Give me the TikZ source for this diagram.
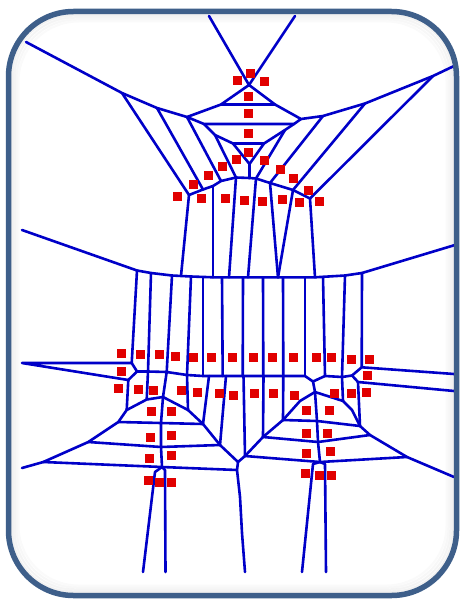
\documentclass[tikz,border=0pt]{standalone}
\definecolor{vorblue}{RGB}{0,0,200}
\definecolor{sitered}{RGB}{225,0,0}
\definecolor{framecol}{RGB}{62,95,138}
\begin{document}
\begin{tikzpicture}[x=1pt,y=-1pt,
  vor/.style={draw=vorblue,line width=2.6pt,line join=round,line cap=round},
  site/.style={fill=sitered},
  frame/.style={draw=framecol,line width=5.5pt,rounded corners=65pt}]
\useasboundingbox (0,0) rectangle (462,599);
\fill[white] (0,0) rectangle (462,599);
% inner soft shadow
\foreach \i/\o in {1/0.12,2/0.09,3/0.07,4/0.05,5/0.03}{
  \draw[black!60,opacity=\o,line width=2pt,rounded corners=60pt]
    (8.5+2*\i,11.5+2*\i) rectangle (456.5-2*\i,595.5-2*\i);
}
% ---------- vertices (upper cluster)
\coordinate (A) at (249,85);
\coordinate (B) at (221,104.5);
\coordinate (C) at (275,104.5);
\coordinate (D) at (187,117);
\coordinate (E) at (301,119);
\coordinate (F) at (204,124);
\coordinate (G) at (294,124);
\coordinate (H) at (215,135);
\coordinate (I) at (285,130);
\coordinate (TL) at (233,143.5);
\coordinate (TR) at (264,143.5);
\coordinate (TA) at (249.5,164);
\coordinate (Vc) at (249.5,178);
\coordinate (P1) at (26,42);
\coordinate (P2) at (122,93);
\coordinate (P3) at (157,108);
\coordinate (R1) at (454,66);
\coordinate (R2) at (433,76);
\coordinate (R3) at (365,103.5);
\coordinate (R4) at (323,116);
\coordinate (V1) at (189,195);
\coordinate (V2) at (203,189.5);
\coordinate (V2b) at (213,186);
\coordinate (V3) at (221,181);
\coordinate (V4) at (236,177.5);
\coordinate (W1) at (256,178.5);
\coordinate (W2) at (270,183);
\coordinate (W3) at (293,190);
\coordinate (W4) at (310,198.5);
% ---------- upper cells
\draw[vor] (209,16) -- (A) -- (295,16);
\draw[vor] (P1) -- (P2) -- (P3) -- (D) -- (B) -- (A) -- (C) -- (E) -- (R4) -- (R3) -- (R2) -- (R1);
\draw[vor] (B) -- (C);
\draw[vor] (D) -- (F) -- (G) -- (E);
\draw[vor] (F) -- (H) -- (TL) -- (TR) -- (I) -- (G);
\draw[vor] (TL) -- (TA) -- (TR);
\draw[vor] (TA) -- (Vc);
\draw[vor] (P2) -- (V1);
\draw[vor] (P3) -- (V2);
\draw[vor] (D) -- (V3);
\draw[vor] (H) -- (V4);
\draw[vor] (I) -- (W1);
\draw[vor] (R4) -- (W2);
\draw[vor] (R3) -- (W3);
\draw[vor] (R2) -- (W4);
\draw[vor] (V1) -- (V2) -- (V2b) -- (V3) -- (V4) -- (Vc) -- (W1) -- (W2) -- (W3) -- (W4);
% ---------- band
\draw[vor] (22,230) -- (137,270.5) -- (151,273) -- (172,275.5) -- (191,276.5) -- (213,277.3)
  -- (315,277.3) -- (345,275.5) -- (362,273) -- (455,245);
\draw[vor] (V1) -- (181,275.8);
\draw[vor] (V2b) -- (213,277.3);
\draw[vor] (V4) -- (229,277.3);
\draw[vor] (W1) -- (248,277.4);
\draw[vor] (W2) -- (278,277.4);
\draw[vor] (W3) -- (278,277.4);
\draw[vor] (W4) -- (315,277.3);
% ---------- row 1 verticals
\foreach \a/\b/\c/\d in {137/270.5/131.7/363, 151/273/148/371.5, 172/275.5/166.7/372,
  191/276.5/187/375, 203/277.3/203/376, 222/277.3/222.7/376, 243/277.4/242.7/376,
  263/277.4/263.3/376, 283/277.4/283.3/376, 305/277.3/305/376, 323/276.8/325/376,
  345/275.5/342/377, 362/273/361.7/367.3}{
  \draw[vor] (\a,\b) -- (\c,\d);
}
% ---------- side lines and row boundary
\draw[vor] (131.7,363) -- (22,363) -- (128.3,380);
\draw[vor] (131.7,363) -- (137,371.5) -- (128.3,380);
\draw[vor] (137,371.5) -- (148,371.5) -- (166.7,372) -- (187,375) -- (203,376) -- (222.7,376)
  -- (242.7,376) -- (263.3,376) -- (283.3,376) -- (305,376) -- (313,381.5) -- (325,376)
  -- (342,377) -- (352,375.5) -- (361.7,367.3) -- (454,374);
\draw[vor] (352,375.5) -- (358,382) -- (454,391);
% ---------- row 2 verticals
\foreach \a/\b/\c/\d in {128.3/380/126.7/410, 148/371.5/146.7/399.5, 166.7/372/163/397,
  187/375/188/410, 209/376/203/424, 226/376/220/445, 243.5/376/245/456,
  263.5/376/263/437, 283.3/376/283/420, 313/381.5/315/392, 342/377/343/401,
  358/382/360/426}{
  \draw[vor] (\a,\b) -- (\c,\d);
}
% ---------- left tree
\coordinate (LT) at (163,397);
\coordinate (LB) at (162,467);
\coordinate (TT) at (238,462);
\draw[vor] (22,468) -- (43.3,462) -- (88.3,442) -- (118.3,422) -- (126.7,410) -- (146.7,399.5)
  -- (LT) -- (188,410) -- (203,424) -- (220,445) -- (TT);
\draw[vor] (LT) -- (161,423) -- (161,447) -- (LB);
\draw[vor] (118.3,422) -- (161,423) -- (203,424);
\draw[vor] (88.3,442) -- (161,447) -- (220,445);
\draw[vor] (43.3,462) -- (LB) -- (237,470);
\draw[vor] (LB) -- (155,472) -- (143,572);
\draw[vor] (LB) -- (165,470) -- (165.5,572);
\draw[vor] (TT) -- (237,470) -- (240,497) -- (242,533) -- (245,572);
% ---------- right tree
\coordinate (RT) at (315,392);
\coordinate (RB) at (320,462);
\draw[vor] (TT) -- (245,456) -- (263,437) -- (283,420) -- (300,401) -- (RT) -- (343,401)
  -- (352,410) -- (360,426) -- (370,435) -- (407,457) -- (454,477);
\draw[vor] (RT) -- (317,421) -- (318,442) -- (RB);
\draw[vor] (283,420) -- (317,421) -- (360,426);
\draw[vor] (263,437) -- (318,442) -- (370,435);
\draw[vor] (245,456) -- (RB) -- (407,457);
\draw[vor] (RB) -- (313,464) -- (302,572);
\draw[vor] (RB) -- (325,464) -- (326,572);
% ---------- sites
\foreach \x/\y in {250/74,237/81,264/82,248/97,248/114,248/133,248/152,236/159,264/160,
  222/166,208/175,193/184,177/196,201/198,225/198,244/200,262/201,282/199,299/202,
  319/201,308/190,293/178,280/169,
  121/353,140/354,159/354,175/356,193/357,211/357,232/357,253/357,272/357,293/357,
  316/357,331/357,351/359,369/359,121/371,118/388,367/375,
  138/389,153/390,181/390,197/392,219/393,233/395,254/393,273/393,294/395,334/393,
  351/393,366/392,
  151/411,171/411,150/437,171/435,149/458,171/455,148/480,159/482,171/482,
  306/410,329/410,306/433,327/433,306/453,330/451,305/473,319/475,331/475}{
  \fill[site] (\x-4.5,\y-4.5) rectangle (\x+4.5,\y+4.5);
}
% ---------- frame
\draw[frame] (8.5,11.5) rectangle (456.5,595.5);
\end{tikzpicture}
\end{document}
